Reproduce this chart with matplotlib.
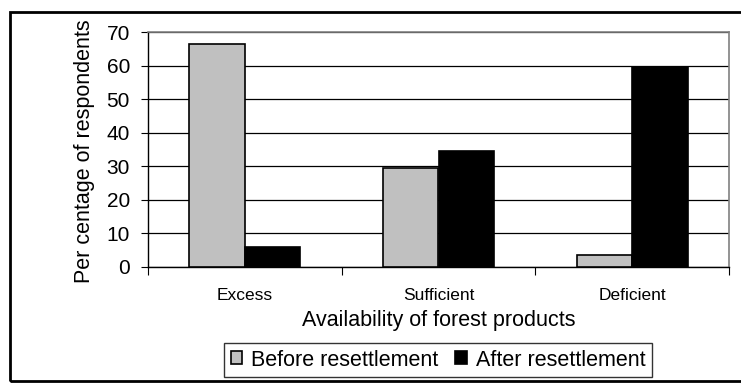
import matplotlib
matplotlib.use("Agg")
import matplotlib.pyplot as plt
import numpy as np
from matplotlib.patches import Rectangle

categories = ["Excess", "Sufficient", "Deficient"]
before = [66.5, 29.5, 3.5]
after = [6.0, 34.5, 59.5]
series_names = ["Before resettlement", "After resettlement"]
yticks = [0, 10, 20, 30, 40, 50, 60, 70]

plt.rcParams['font.family'] = ['Liberation Sans', 'DejaVu Sans']

W, H = 741, 383
fig = plt.figure(figsize=(W/100, H/100), dpi=100)

# outer frame
fig.patches.append(Rectangle((10/W, 1 - 381/H), 740/W, (381-12)/H, transform=fig.transFigure,
                             fill=False, edgecolor='black', linewidth=2.0))

ax = fig.add_axes([148/W, 1 - 267/H, (729-148)/W, (267-32)/H])
x = np.arange(len(categories))
bw = 0.286
ax.bar(x - bw/2, before, bw, color='#c0c0c0', edgecolor='black', linewidth=1.2, label=series_names[0], zorder=3)
ax.bar(x + bw/2, after, bw, color='black', edgecolor='black', linewidth=1.2, label=series_names[1], zorder=3)

ax.set_xlim(-0.5, 2.5)
ax.set_ylim(0, 70)
ax.set_yticks(yticks)
ax.set_yticklabels([str(v) for v in yticks], fontsize=15)
ax.yaxis.grid(True, color='black', linewidth=0.9, zorder=0)
ax.set_axisbelow(True)
ax.set_xticks([-0.5, 0.5, 1.5, 2.5], minor=False)
ax.set_xticklabels([])
ax.set_xticks(x, minor=True)
ax.set_xticklabels(categories, minor=True, fontsize=12.5)
ax.tick_params(axis='x', which='minor', length=0, pad=15)
ax.tick_params(axis='x', which='major', length=6, direction='out', color='black')
ax.tick_params(axis='y', length=5, direction='out', pad=8)
for s in ['top', 'right']:
    ax.spines[s].set_color('#808080')
    ax.spines[s].set_linewidth(1.2)
ax.spines['left'].set_color('black')
ax.spines['bottom'].set_color('black')
ax.spines['left'].set_linewidth(1.0)
ax.spines['bottom'].set_linewidth(1.0)

ax.set_xlabel("Availability of forest products", fontsize=15.5)
ax.xaxis.set_label_coords(0.5, (267-310)/235)
ax.set_ylabel("Per centage of respondents", fontsize=15.5)
ax.yaxis.set_label_coords((95-148)/581, (267-151.5)/235)

leg = fig.legend(loc='center', bbox_to_anchor=(438/W, 1 - 360/H), ncol=2, fontsize=15.5,
                 frameon=True, fancybox=False, edgecolor='black', handlelength=0.55, handleheight=0.55,
                 handletextpad=0.4, columnspacing=0.8, borderpad=0.3, borderaxespad=0)
leg.get_frame().set_linewidth(1.0)

fig.savefig("out.png", dpi=100)
